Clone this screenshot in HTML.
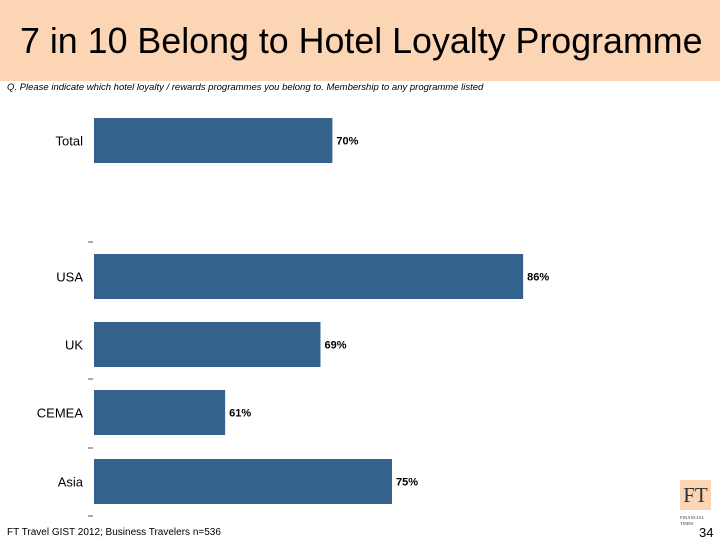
<!DOCTYPE html>
<html><head><meta charset="utf-8"><style>
body{margin:0;width:720px;height:540px;background:#fff;font-family:"Liberation Sans",sans-serif;position:relative;overflow:hidden}
.hdr{position:absolute;left:0;top:0;width:720px;height:81px;background:#fcd5b5}
.title{position:absolute;left:20px;top:21px;font-size:35.8px;color:#000;white-space:nowrap}
.q{position:absolute;left:7px;top:82px;font-size:9.5px;font-style:italic;color:#000;white-space:nowrap}
.foot{position:absolute;left:7px;top:527px;font-size:10px;white-space:nowrap}
.pg{position:absolute;left:699px;top:525px;font-size:13px}
.ft{position:absolute;left:680px;top:480px;width:31px;height:30px;background:#fcd5b5;font-family:"Liberation Serif",serif;font-size:21px;color:#333;text-align:center;line-height:30px}
.fin{position:absolute;left:680px;top:515px;font-family:"Liberation Serif",serif;font-size:4.5px;color:#333;line-height:6px}
</style></head><body>
<div class="hdr"></div>
<div class="title">7 in 10 Belong to Hotel Loyalty Programme</div>
<div class="q">Q. Please indicate which hotel loyalty / rewards programmes you belong to. Membership to any programme listed</div>
<svg id="chart" width="720" height="540" style="position:absolute;left:0;top:0"></svg>
<div class="foot">FT Travel GIST 2012; Business Travelers n=536</div>
<div class="ft">FT</div>
<div class="fin">FINANCIAL<br>TIMES</div>
<div class="pg">34</div>
<script>
const categories=["Total","USA","UK","CEMEA","Asia"];
const values=[70,86,69,61,75];
const valueLabels=["70%","86%","69%","61%","75%"];
const bandTops=[118,254,322,390,459];
const ticksY=[242,379,448,516];
const svg=document.getElementById('chart');
const NS="http://www.w3.org/2000/svg";
const x0=94,vmin=50,scale=11.92;
const xs=v=>x0+(v-vmin)*scale;
function mk(t,a){const e=document.createElementNS(NS,t);for(const k in a)e.setAttribute(k,a[k]);svg.appendChild(e);return e;}
categories.forEach((c,i)=>{
 const y=bandTops[i],h=45;
 const r=mk('rect',{x:x0,y:y,width:xs(values[i])-x0,height:h,fill:'#35618d'});
 
 
 const l=mk('text',{x:83,y:y+h/2+5,'text-anchor':'end','font-size':13,fill:'#000','font-family':'Liberation Sans'});
 l.textContent=c;
 
 
 const v=mk('text',{x:xs(values[i])+4,y:y+h/2+4,'font-size':11,'font-weight':'bold',fill:'#000','font-family':'Liberation Sans'});
 v.textContent=valueLabels[i];
 
 
});
ticksY.forEach(y=>{
 const t=mk('line',{x1:88,x2:93,y1:y,y2:y,stroke:'#555','stroke-width':1});
 
 
});
</script>
</body></html>
